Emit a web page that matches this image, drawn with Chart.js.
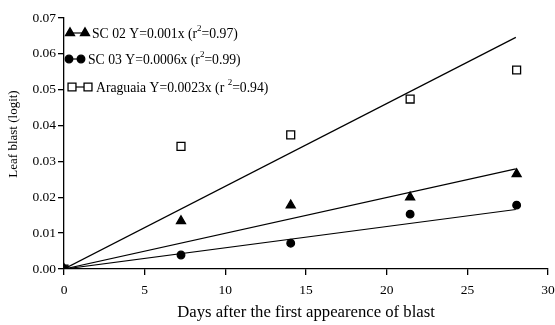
<!DOCTYPE html>
<html>
<head>
<meta charset="utf-8">
<script src="https://cdn.jsdelivr.net/npm/chart.js@4"></script>
<style>
  html, body { margin: 0; padding: 0; background: #fff; }
  #wrap { width: 555px; height: 325px; }
</style>
</head>
<body>
<div id="wrap"><canvas id="chartBlast" width="555" height="325"></canvas></div>
<script>
// days after the first appearence of blast
const days = [0, 7.25, 14.05, 21.45, 28.05];

// leaf blast (logit)
const sc02 = [0, 0.0134, 0.0178, 0.0200, 0.0265];
const sc03 = [0, 0.0039, 0.0072, 0.0153, 0.0178];
const araguaia = [0, 0.0342, 0.0374, 0.0474, 0.0555];

// fitted lines, start and end
const fitDays = [0, 28];
const sc02Fit = [0, 0.0279];
const sc03Fit = [0, 0.0166];
const araguaiaFit = [0, 0.0646];

const legendText = [
  "SC 02 Y=0.001x (r²=0.97)",
  "SC 03 Y=0.0006x (r²=0.99)",
  "Araguaia Y=0.0023x (r ²=0.94)",
];

const xTicks = [0, 5, 10, 15, 20, 25, 30];
const yTitle = "Leaf blast (logit)";

const toPoints = (xs, ys) => xs.map((x, i) => ({ x: x, y: ys[i] }));

const serif = "'Liberation Serif', 'Times New Roman', serif";

const markers = [
  { pointStyle: "triangle", radius: 5.2, bg: "#000" },
  { pointStyle: "circle", radius: 3.8, bg: "#000" },
  { pointStyle: "rect", radius: 5.6, bg: "#fff" },
];

// legend drawn inside the plot, two markers joined by a short line
const legendPlugin = {
  id: "blastLegend",
  afterDraw(chart) {
    const ctx = chart.ctx;
    const rows = [
      { y: 33, m1: 70, m2: 85, tx: 92 },
      { y: 59, m1: 69, m2: 81, tx: 88 },
      { y: 87, m1: 72, m2: 88, tx: 96 },
    ];
    ctx.save();
    rows.forEach((row, i) => {
      const mk = markers[i];
      ctx.strokeStyle = "#000";
      ctx.lineWidth = 1.2;
      ctx.beginPath();
      ctx.moveTo(row.m1, row.y);
      ctx.lineTo(row.m2, row.y);
      ctx.stroke();
      [row.m1, row.m2].forEach((mx) => {
        ctx.fillStyle = mk.bg;
        ctx.strokeStyle = "#000";
        ctx.lineWidth = 1.3;
        Chart.helpers.drawPoint(ctx, { pointStyle: mk.pointStyle, radius: mk.radius, rotation: 0, borderWidth: 1.3 }, mx, row.y);
      });
      // text with a raised 2
      const parts = legendText[i].split("²");
      let x = row.tx;
      ctx.fillStyle = "#000";
      ctx.textBaseline = "middle";
      ctx.textAlign = "left";
      ctx.font = "13.7px " + serif;
      ctx.fillText(parts[0], x, row.y + 1);
      x += ctx.measureText(parts[0]).width;
      ctx.font = "9px " + serif;
      ctx.fillText("2", x, row.y - 4);
      x += ctx.measureText("2").width;
      ctx.font = "13.7px " + serif;
      ctx.fillText(parts[1], x, row.y + 1);
    });

    // y axis title, sits a little above the middle of the axis
    ctx.translate(13.5, 134);
    ctx.rotate(-Math.PI / 2);
    ctx.font = "13px " + serif;
    ctx.textAlign = "center";
    ctx.textBaseline = "middle";
    ctx.fillStyle = "#000";
    ctx.fillText(yTitle, 0, 0);
    ctx.restore();
  },
};

const scatterSet = (data, i) => ({
  type: "scatter",
  data: data,
  showLine: false,
  pointStyle: markers[i].pointStyle,
  pointRadius: markers[i].radius,
  pointBackgroundColor: markers[i].bg,
  pointBorderColor: "#000",
  pointBorderWidth: 1.3,
});

const lineSet = (data) => ({
  type: "line",
  data: data,
  borderColor: "#000",
  borderWidth: 1.2,
  pointRadius: 0,
  fill: false,
});

const config = {
  type: "scatter",
  data: {
    datasets: [
      lineSet(toPoints(fitDays, sc02Fit)),
      lineSet(toPoints(fitDays, sc03Fit)),
      lineSet(toPoints(fitDays, araguaiaFit)),
      scatterSet(toPoints(days, sc02), 0),
      scatterSet(toPoints(days, sc03), 1),
      scatterSet(toPoints(days, araguaia), 2),
    ],
  },
  options: {
    responsive: false,
    animation: false,
    layout: { padding: { left: 0, top: 18, right: 5, bottom: 0 } },
    plugins: { legend: { display: false }, tooltip: { enabled: false } },
    scales: {
      x: {
        type: "linear",
        min: 0,
        max: 30,
        afterBuildTicks: (scale) => {
          scale.ticks = xTicks.map((v) => ({ value: v }));
        },
        afterFit: (scale) => {
          scale.height = 56;
          scale.paddingRight = 0;
          scale.paddingLeft = 0;
        },
        border: { color: "#000", width: 1.3 },
        grid: { drawOnChartArea: false, color: "#000", tickLength: 6, lineWidth: 1.3 },
        ticks: { color: "#000", font: { family: serif, size: 13.5 }, padding: 7, maxRotation: 0 },
        title: {
          display: true,
          text: "Days after the first appearence of blast",
          color: "#000",
          font: { family: serif, size: 16.7 },
          padding: { top: 0, bottom: 2 },
        },
      },
      y: {
        min: 0,
        max: 0.07,
        ticks: {
          stepSize: 0.01,
          color: "#000",
          font: { family: serif, size: 13.5 },
          padding: 2,
          callback: (v) => v.toFixed(2),
        },
        afterFit: (scale) => { scale.width = 64; },
        border: { color: "#000", width: 1.3 },
        grid: { drawOnChartArea: false, color: "#000", tickLength: 6, lineWidth: 1.3 },
        title: { display: false },
      },
    },
  },
  plugins: [legendPlugin],
};

const chartBlast = new Chart(document.getElementById("chartBlast"), config);
</script>
</body>
</html>
